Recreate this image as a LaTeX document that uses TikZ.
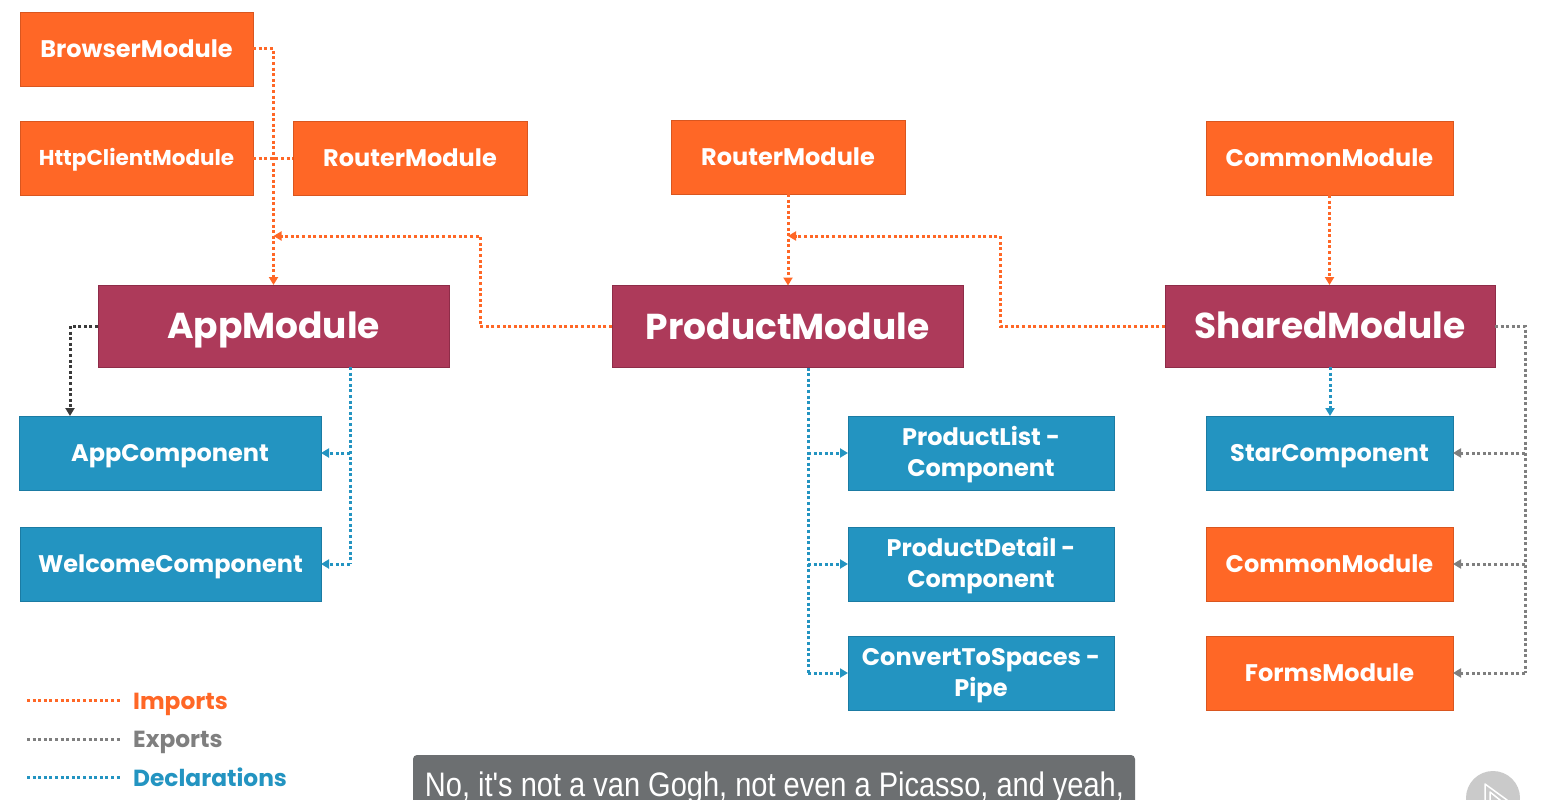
\documentclass[tikz,border=0pt]{standalone}
\usepackage{fontspec}
\usepackage{graphicx}
\setmainfont{Poppins}
\newfontfamily\subfont{Liberation Sans}
\usetikzlibrary{arrows.meta}
\definecolor{ora}{HTML}{FF6726}
\definecolor{orad}{HTML}{D9561F}
\definecolor{mag}{HTML}{AD3A5A}
\definecolor{magd}{HTML}{8E2C48}
\definecolor{blu}{HTML}{2394C1}
\definecolor{blud}{HTML}{1B7BA3}
\definecolor{expd}{HTML}{3A3A3A}
\definecolor{expg}{HTML}{7F7F7F}
\definecolor{subbg}{HTML}{6C6F71}
\definecolor{icon}{HTML}{CACACA}
\tikzset{
  box/.style={rectangle, inner sep=0pt, outer sep=0pt, line width=0.8pt, text=white, align=center,
    font=\bfseries\fontsize{24}{31}\selectfont, text height=16.8pt, text depth=0pt},
  obox/.style={box, fill=ora, draw=orad, minimum height=74pt},
  bbox/.style={box, fill=blu, draw=blud, minimum height=74pt},
  two/.style={text height=47.8pt},
  mbox/.style={box, fill=mag, draw=magd, minimum height=82pt, minimum width=351pt,
    font=\bfseries\fontsize{36}{40}\selectfont, text height=25.2pt},
  dotline/.style={line width=3pt, dash pattern=on 3pt off 2.6pt},
  tip/.style={-{Triangle[length=8pt,width=9pt]}},
  imp/.style={dotline, ora},
  exd/.style={dotline, expd},
  exg/.style={dotline, expg},
  dec/.style={dotline, blu},
  leg/.style={anchor=base west, inner sep=0pt, font=\bfseries\fontsize{23.3}{28}\selectfont},
}
\begin{document}
\begin{tikzpicture}[x=1pt,y=-1pt]
\useasboundingbox (0,0) rectangle (1548,800);
\clip (0,0) rectangle (1548,800);
\fill[white] (0,0) rectangle (1548,800);

% top modules
\node[obox, minimum width=233pt] (browser) at (136.5,49) {BrowserModule};
\node[obox, minimum width=233pt, font=\bfseries\fontsize{21.5}{24}\selectfont, text height=15pt] (http) at (136.5,158) {HttpClientModule};
\node[obox, minimum width=234pt] (routerL) at (410,158) {RouterModule};
\node[obox, minimum width=234pt] (routerM) at (788,157) {RouterModule};
\node[obox, minimum width=247pt] (commonT) at (1329.5,158) {CommonModule};

% main modules
\node[mbox] (app) at (273.5,326) {AppModule};
\node[mbox] (product) at (787.5,326.5) {ProductModule};
\node[mbox, minimum width=330pt] (shared) at (1330,326) {SharedModule};

% lower boxes
\node[bbox, minimum width=302pt] (appComp) at (170,453) {AppComponent};
\node[bbox, minimum width=301pt] (welcome) at (170.5,564) {WelcomeComponent};
\node[bbox, two, minimum width=266pt] (plist) at (981,453) {ProductList -\\Component};
\node[bbox, two, minimum width=266pt] (pdetail) at (981,564) {ProductDetail -\\Component};
\node[bbox, two, minimum width=266pt] (convert) at (981,673) {ConvertToSpaces -\\Pipe};
\node[bbox, minimum width=247pt] (star) at (1329.5,453) {StarComponent};
\node[obox, minimum width=247pt] (commonB) at (1329.5,564) {CommonModule};
\node[obox, minimum width=247pt] (forms) at (1329.5,673) {FormsModule};

% junction coordinates
\coordinate (jL) at (480,236);
\coordinate (jR) at (1000,236);
\coordinate (eL) at (70,0);
\coordinate (eR) at (1525,0);
\coordinate (dA) at (350,0);
\coordinate (dP) at (808,0);

% imports
\draw[imp, tip] (browser.east) -| (app.north);
\draw[imp] (http.east) -- (routerL.west);
\draw[imp, tip] (product.west) -| (jL) -- (app.north |- jL);
\draw[imp, tip] (routerM.south) -- (routerM.south |- product.north);
\draw[imp, tip] (shared.west) -| (jR) -- (routerM.south |- jR);
\draw[imp, tip] (commonT.south) -- (commonT.south |- shared.north);

% exports
\draw[exd, tip] (app.west) -| (eL |- appComp.north);
\draw[exg] (shared.east) -| (eR |- forms.east);
\draw[exg, tip] (eR |- forms.east) -- (forms.east);
\draw[exg, tip] (eR |- commonB.east) -- (commonB.east);
\draw[exg, tip] (eR |- star.east) -- (star.east);

% declarations
\draw[dec] (dA |- app.south) -- (dA |- welcome.east);
\draw[dec, tip] (dA |- welcome.east) -- (welcome.east);
\draw[dec, tip] (dA |- appComp.east) -- (appComp.east);
\draw[dec] (dP |- product.south) -- (dP |- convert.west);
\draw[dec, tip] (dP |- convert.west) -- (convert.west);
\draw[dec, tip] (dP |- pdetail.west) -- (pdetail.west);
\draw[dec, tip] (dP |- plist.west) -- (plist.west);
\draw[dec, tip] (shared.south) -- (shared.south |- star.north);

% legend
\node[leg, text=ora] (limp) at (133,709) {Imports};
\node[leg, text=expg] (lexp) at (133,747) {Exports};
\node[leg, text=blu] (ldec) at (133,786) {Declarations};
\draw[imp] (27,700) -- (121,700);
\draw[exg] (27,739) -- (121,739);
\draw[dec] (27,777) -- (121,777);

% subtitle
\fill[subbg, rounded corners=4pt] (413,755) rectangle (1135,812);
\node[anchor=base, inner sep=0pt, text=white, font=\subfont\fontsize{34}{40}\selectfont] (sub) at (774.5,796) {\resizebox{699pt}{\height}{No, it's not a van Gogh, not even a Picasso, and yeah,}};

% corner icon
\fill[icon] (1493,798) circle (27);
\draw[white, line width=1.5pt, line join=round] (1485,784) -- (1507,800) -- (1485,816) -- cycle;
\draw[white, line width=1.5pt, line join=round] (1490,792) -- (1500,800) -- (1490,808) -- cycle;
\end{tikzpicture}
\end{document}
